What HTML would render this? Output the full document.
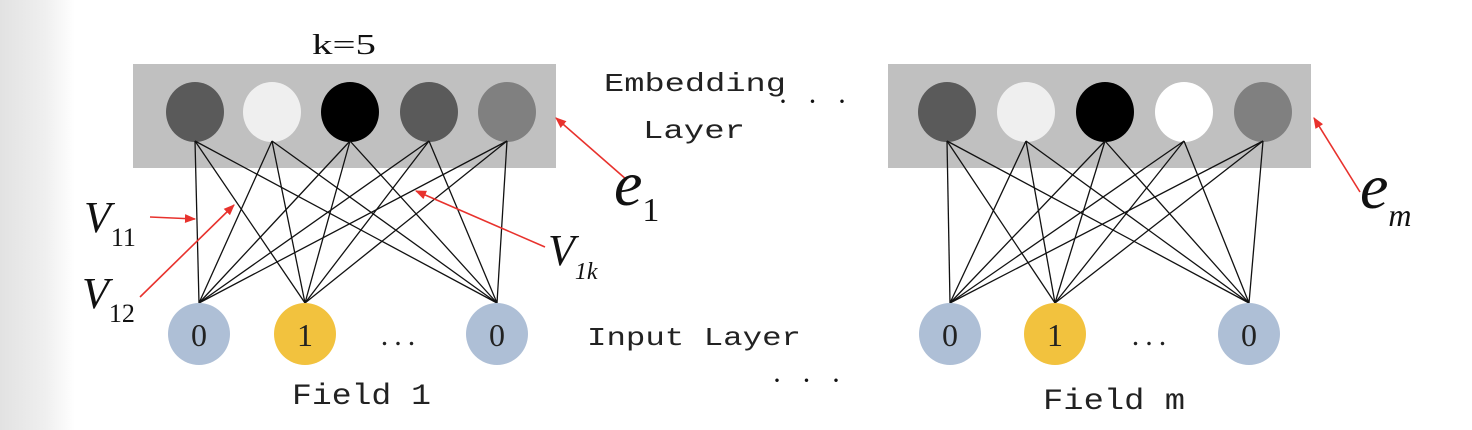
<!DOCTYPE html>
<html><head><meta charset="utf-8"><style>
html,body{margin:0;padding:0;background:#fff;}
svg{display:block;}
.mono{font-family:"Liberation Mono","Noto Serif CJK SC",monospace;fill:#222;}
.ser{font-family:"Liberation Serif",serif;fill:#111;}
.it{font-family:"Liberation Serif",serif;font-style:italic;fill:#111;}
</style></head><body>
<svg width="1472" height="430" viewBox="0 0 1472 430">
<defs>
<linearGradient id="lg" x1="0" x2="1" y1="0" y2="0">
<stop offset="0" stop-color="#e2e2e2"/><stop offset="0.6" stop-color="#efefef"/><stop offset="1" stop-color="#fff"/>
</linearGradient>
<marker id="ah" viewBox="0 0 10 10" refX="9" refY="5" markerWidth="7" markerHeight="7" orient="auto"><path d="M0,1 L10,5 L0,9 z" fill="#e8322d"/></marker>
</defs>
<rect x="0" y="0" width="75" height="430" fill="url(#lg)"/>
<g id="diagram"></g>
<text class="ser" x="312" y="54" font-size="28" textLength="64" lengthAdjust="spacingAndGlyphs">k=5</text>
<text class="mono" x="604" y="91" font-size="26" textLength="182" lengthAdjust="spacingAndGlyphs">Embedding</text>
<text class="mono" x="643" y="138" font-size="26" textLength="102" lengthAdjust="spacingAndGlyphs">Layer</text>
<text class="mono" x="587" y="345" font-size="26" textLength="214" lengthAdjust="spacingAndGlyphs">Input Layer</text>
<text class="mono" x="292" y="404" font-size="30" textLength="139" lengthAdjust="spacingAndGlyphs">Field 1</text>
<text class="mono" x="1043" y="409" font-size="30" textLength="142" lengthAdjust="spacingAndGlyphs">Field m</text>
<text class="ser" x="778" y="111" font-size="30" letter-spacing="6">· · ·</text>
<text class="ser" x="772" y="390" font-size="30" letter-spacing="6">· · ·</text>
<g>
<line x1="150" y1="217" x2="195" y2="219" stroke="#e8322d" stroke-width="1.6" marker-end="url(#ah)"/>
<line x1="140" y1="297" x2="234" y2="205" stroke="#e8322d" stroke-width="1.6" marker-end="url(#ah)"/>
<line x1="545" y1="247" x2="416" y2="191" stroke="#e8322d" stroke-width="1.6" marker-end="url(#ah)"/>
<line x1="627" y1="180" x2="556" y2="118" stroke="#e8322d" stroke-width="1.6" marker-end="url(#ah)"/>
<line x1="1360" y1="192" x2="1314" y2="118" stroke="#e8322d" stroke-width="1.6" marker-end="url(#ah)"/>
</g>
<text class="it" x="84" y="232" font-size="44">V<tspan class="ser" font-style="normal" font-size="26" dy="14">11</tspan></text>
<text class="it" x="82" y="308" font-size="44">V<tspan font-style="normal" font-size="26" dy="14">12</tspan></text>
<text class="it" x="548" y="265" font-size="44">V<tspan font-size="24" dy="14">1k</tspan></text>
<text class="it" x="614" y="205" font-size="64">e<tspan font-style="normal" font-size="34" dy="16">1</tspan></text>
<text class="it" x="1360" y="208" font-size="64">e<tspan font-size="32" dy="18">m</tspan></text>
</svg>
<script>
var panelRects=[133,888];
var embX=[[195,272,350,429,507],[947,1026,1105,1184,1263]];
var embColors=[["#5a5a5a","#efefef","#000000","#5a5a5a","#808080"],["#5a5a5a","#efefef","#000000","#ffffff","#808080"]];
var inX=[[199,305,497],[950,1055,1249]];
var inVals=[["0","1","0"],["0","1","0"]];
var NS="http://www.w3.org/2000/svg";
var g=document.getElementById('diagram');
function mk(t,a){var e=document.createElementNS(NS,t);for(var k in a)e.setAttribute(k,a[k]);g.appendChild(e);return e;}
for(var p=0;p<2;p++){
  var r=mk('rect',{x:panelRects[p],y:64,width:423,height:104,fill:'#c0c0c0'});
  
  
  for(var i=0;i<5;i++){
    var c=mk('ellipse',{cx:embX[p][i],cy:112,rx:29,ry:30,fill:embColors[p][i]});
    
    
  }
  for(var i=0;i<5;i++)for(var j=0;j<3;j++){
    var l=mk('line',{x1:embX[p][i],y1:141,x2:inX[p][j],y2:303,stroke:'#111','stroke-width':1.3});
    
    
  }
  for(var j=0;j<3;j++){
    var v=inVals[p][j];
    var n=mk('ellipse',{cx:inX[p][j],cy:334,rx:31,ry:31,fill:v==="1"?"#f2c23e":"#aebfd6"});
    
    
    var t=mk('text',{x:inX[p][j],y:346,'text-anchor':'middle','font-size':32,'font-family':'Liberation Serif, serif',fill:'#222'});
    t.textContent=v;
    
    
  }
  var d=mk('text',{x:(inX[p][1]+inX[p][2])/2,y:345,'text-anchor':'middle','font-size':30,'font-family':'Liberation Serif, serif',fill:'#222','letter-spacing':6});
  d.textContent='...';
  
  
}
</script>
</body></html>
